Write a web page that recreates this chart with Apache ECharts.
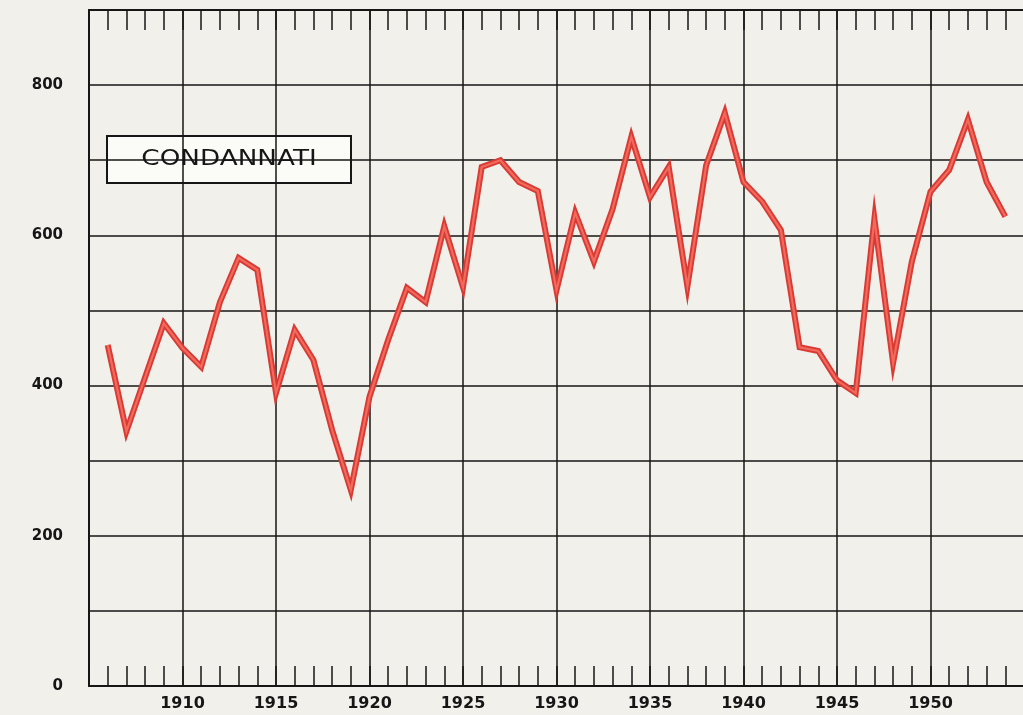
<!DOCTYPE html>
<html>
<head>
<meta charset="utf-8">
<title>Condannati</title>
<script src="https://cdn.jsdelivr.net/npm/echarts@6/dist/echarts.min.js"></script>
<style>
  html, body { margin: 0; padding: 0; background: #f1f0eb; }
  #chart { width: 1023px; height: 715px; }
</style>
</head>
<body>
<div id="chart"></div>
<script>
// Yearly totals of convicted persons, 1906–1954
const seriesName = 'CONDANNATI';
const years = [
  1906, 1907, 1908, 1909, 1910, 1911, 1912, 1913, 1914, 1915,
  1916, 1917, 1918, 1919, 1920, 1921, 1922, 1923, 1924, 1925,
  1926, 1927, 1928, 1929, 1930, 1931, 1932, 1933, 1934, 1935,
  1936, 1937, 1938, 1939, 1940, 1941, 1942, 1943, 1944, 1945,
  1946, 1947, 1948, 1949, 1950, 1951, 1952, 1953, 1954
];
const condannati = [
  454, 339, 411, 483, 450, 425, 511, 570, 554, 390,
  474, 434, 341, 261, 385, 461, 530, 511, 612, 531,
  691, 700, 671, 659, 527, 630, 565, 635, 731, 651,
  691, 532, 693, 763, 671, 645, 607, 451, 446, 407,
  390, 622, 430, 565, 658, 687, 754, 671, 625
];
const yLabelValues = [0, 200, 400, 600, 800];
const xLabelValues = [1910, 1915, 1920, 1925, 1930, 1935, 1940, 1945, 1950];

const points = years.map((y, i) => [y, condannati[i]]);

const ink = '#161616';
const labelFont = { fontFamily: 'DejaVu Sans', fontWeight: 'bold', fontSize: 15, color: ink };

const chart = echarts.init(document.getElementById('chart'));

const xBase = {
  type: 'value',
  min: 1905,
  max: 1955,
  interval: 5,
  axisLine: { show: true, onZero: false, lineStyle: { color: ink, width: 2 } },
  axisTick: { show: true, inside: true, length: 20, lineStyle: { color: ink, width: 1.5 } },
  minorTick: { show: true, splitNumber: 5, length: 20, lineStyle: { color: ink, width: 1.5 } },
  splitLine: { show: false }
};

chart.setOption({
  backgroundColor: '#f1f0eb',
  animation: false,
  grid: { left: 89, width: 935, top: 10, bottom: 29, outerBoundsMode: 'none', containLabel: false },
  xAxis: [
    Object.assign({}, xBase, {
      position: 'bottom',
      splitLine: { show: true, lineStyle: { color: ink, width: 1.5 } },
      axisLabel: Object.assign({}, labelFont, {
        margin: 10,
        fontSize: 16,
        formatter: v => (xLabelValues.indexOf(v) >= 0 ? String(v) : '')
      })
    }),
    Object.assign({}, xBase, {
      position: 'top',
      axisLabel: { show: false }
    })
  ],
  yAxis: {
    type: 'value',
    min: 0,
    max: 900,
    interval: 100,
    axisLine: { show: true, lineStyle: { color: ink, width: 2 } },
    axisTick: { show: false },
    splitLine: { show: true, lineStyle: { color: ink, width: 1.5 } },
    axisLabel: Object.assign({}, labelFont, {
      margin: 26,
      formatter: v => (yLabelValues.indexOf(v) >= 0 ? String(v) : '')
    })
  },
  graphic: [
    {
      type: 'group',
      left: 106,
      top: 135,
      z: 10,
      children: [
        {
          type: 'rect',
          shape: { x: 0, y: 0, width: 244, height: 47 },
          style: { fill: '#fbfbf8', stroke: ink, lineWidth: 2 }
        },
        {
          type: 'text',
          x: 122,
          y: 24,
          scaleX: 1.25,
          style: {
            text: seriesName,
            fill: ink,
            font: '500 21px "DejaVu Sans"',
            align: 'center',
            verticalAlign: 'middle'
          }
        }
      ]
    }
  ],
  series: [
    {
      name: seriesName,
      type: 'line',
      data: points,
      symbol: 'none',
      z: 3,
      lineStyle: { color: '#d83b34', width: 6, join: 'miter' }
    },
    {
      name: seriesName,
      type: 'line',
      data: points,
      symbol: 'none',
      z: 4,
      lineStyle: { color: '#f2695d', width: 2.2, join: 'miter' }
    }
  ]
});
</script>
</body>
</html>
